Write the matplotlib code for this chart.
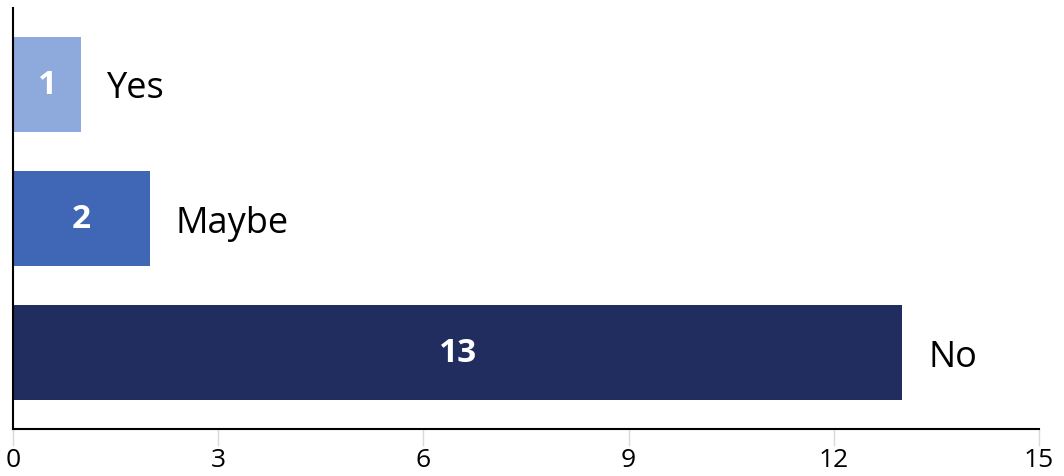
import matplotlib
matplotlib.use("Agg")
import matplotlib.pyplot as plt

# Daten
categories = ["Yes", "Maybe", "No"]
values = [1, 2, 13]
colors = ["#8EA9DB", "#3F67B6", "#222D5F"]
xticks = [0, 3, 6, 9, 12, 15]

plt.rcParams['font.family'] = ['Open Sans', 'DejaVu Sans']

fig = plt.figure(figsize=(10.64, 4.77), dpi=100)
ax = fig.add_axes([13/1064, 47/477, 1026/1064, 421/477])

y_pos = range(len(categories))
bars = ax.barh(y_pos, values, height=0.71, color=colors)

# Werte in den Balken, Kategorie rechts daneben
for y, v, cat in zip(y_pos, values, categories):
    ax.text(v / 2, y, str(v), ha='center', va='center', color='white',
            fontsize=24, fontweight='bold')
    ax.text(v + 0.38, y + 0.03, cat, ha='left', va='center', color='black',
            fontsize=26)

ax.set_xlim(0, 15)
ax.set_ylim(2.57, -0.57)
ax.set_xticks(xticks)
ax.set_yticks([])
ax.tick_params(axis='x', length=12, color='#d9d9d9', width=1, labelsize=19, pad=1)

for s in ['top', 'right']:
    ax.spines[s].set_visible(False)
ax.spines['left'].set_linewidth(1.5)
ax.spines['bottom'].set_linewidth(1.5)

plt.savefig("out.png", dpi=100)
